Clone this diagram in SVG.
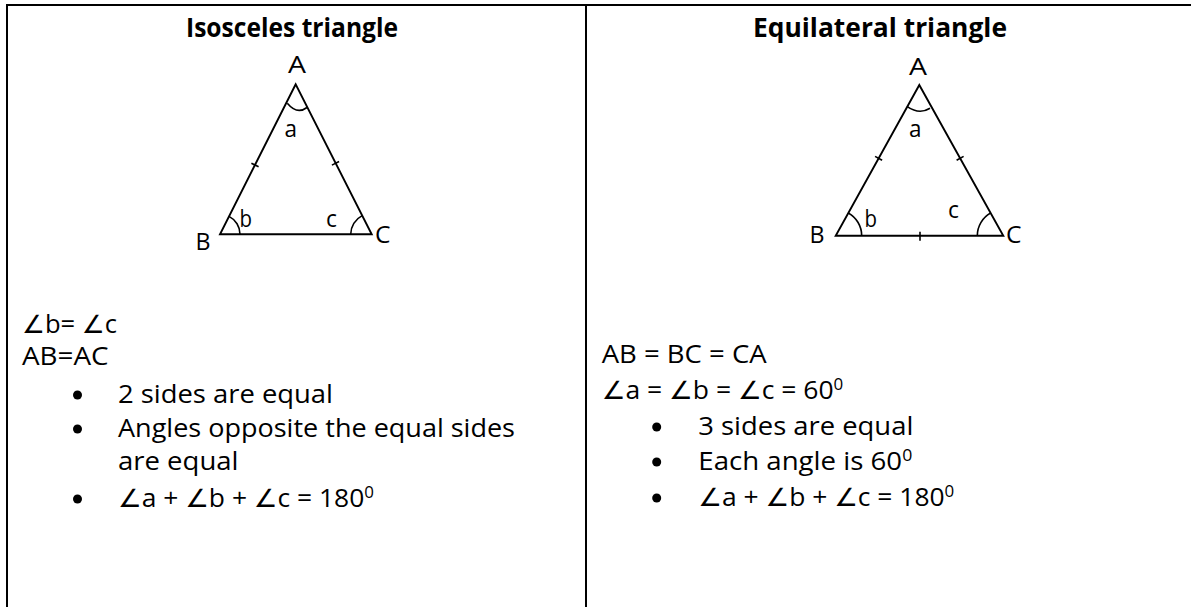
<svg xmlns="http://www.w3.org/2000/svg" width="1191" height="607" viewBox="0 0 1191 607">
<style>
.b{stroke:#000;stroke-width:2;fill:none}
.t{stroke:#000;stroke-width:1.9;fill:none;stroke-linejoin:miter}
.k{stroke:#000;stroke-width:1.6;fill:none}
text{font-family:"Open Sans","Liberation Sans","DejaVu Sans",sans-serif;fill:#000}
.h{font-size:27px;font-weight:bold}
.x{font-size:25px}
.l{font-size:23px}
.s{font-size:16px}
</style>
<rect width="1191" height="607" fill="#fff"/>
<g id="table">
<line class="b" x1="6" y1="5" x2="1191" y2="5"/>
<line class="b" x1="7" y1="4" x2="7" y2="607"/>
<line class="b" x1="586" y1="5" x2="586" y2="607"/>
</g>
<g id="isosceles">
<text class="h" x="292" y="37" text-anchor="middle" textLength="212" lengthAdjust="spacingAndGlyphs">Isosceles triangle</text>
<polygon class="t" points="295.7,84.3 220,234.3 371.7,234.3"/>
<path class="k" d="M287.3,103.3 Q297,115 307,107.5"/>
<path class="k" d="M240,234.3 A20 20 0 0 0 229,216.4"/>
<path class="k" d="M350.7,234.3 A21 21 0 0 1 362.2,215.6"/>
<line class="k" x1="251.4" y1="163.2" x2="258.6" y2="166.8"/>
<line class="k" x1="331.9" y1="165.1" x2="339.1" y2="161.5"/>
<text class="l" x="288" y="73" textLength="18" lengthAdjust="spacingAndGlyphs">A</text>
<text class="l" x="284.5" y="137" textLength="12.5" lengthAdjust="spacingAndGlyphs">a</text>
<text class="l" x="239.5" y="226.5" textLength="12.5" lengthAdjust="spacingAndGlyphs">b</text>
<text class="l" x="326" y="226.5" textLength="11" lengthAdjust="spacingAndGlyphs">c</text>
<text class="l" x="195.5" y="249.5" textLength="15" lengthAdjust="spacingAndGlyphs">B</text>
<text class="l" x="375" y="243" textLength="15.5" lengthAdjust="spacingAndGlyphs">C</text>
<text class="x" x="22" y="333" textLength="95" lengthAdjust="spacingAndGlyphs">∠b= ∠c</text>
<text class="x" x="22" y="365" textLength="86.6" lengthAdjust="spacingAndGlyphs">AB=AC</text>
<circle cx="77.5" cy="395" r="4.5"/>
<text class="x" x="118" y="403" textLength="215" lengthAdjust="spacingAndGlyphs">2 sides are equal</text>
<circle cx="77.5" cy="429" r="4.5"/>
<text class="x" x="118" y="437" textLength="397" lengthAdjust="spacingAndGlyphs">Angles opposite the equal sides</text>
<text class="x" x="118" y="470" textLength="120.5" lengthAdjust="spacingAndGlyphs">are equal</text>
<circle cx="77.5" cy="499" r="4.5"/>
<text class="x" x="118" y="507" textLength="256" lengthAdjust="spacingAndGlyphs">∠a + ∠b + ∠c = 180<tspan class="s" dy="-9">0</tspan></text>
</g>
<g id="equilateral">
<text class="h" x="880" y="37" text-anchor="middle" textLength="254" lengthAdjust="spacingAndGlyphs">Equilateral triangle</text>
<polygon class="t" points="919.3,85 835.7,235.7 1003.3,235.7"/>
<path class="k" d="M907.3,106.7 Q919.3,115 930,108.3"/>
<path class="k" d="M861.7,235.7 A26 26 0 0 0 848.3,213"/>
<path class="k" d="M977.3,235.7 A26 26 0 0 1 990.6,213"/>
<line class="k" x1="875.1" y1="156.4" x2="882.1" y2="160.2"/>
<line class="k" x1="956.6" y1="160.2" x2="963.6" y2="156.4"/>
<line class="k" x1="920" y1="231.7" x2="920" y2="240.7"/>
<text class="l" x="909" y="75" textLength="18" lengthAdjust="spacingAndGlyphs">A</text>
<text class="l" x="909" y="137" textLength="12.5" lengthAdjust="spacingAndGlyphs">a</text>
<text class="l" x="864.5" y="226.5" textLength="12.5" lengthAdjust="spacingAndGlyphs">b</text>
<text class="l" x="948" y="218" textLength="11" lengthAdjust="spacingAndGlyphs">c</text>
<text class="l" x="809.5" y="243" textLength="15" lengthAdjust="spacingAndGlyphs">B</text>
<text class="l" x="1006" y="243" textLength="15.5" lengthAdjust="spacingAndGlyphs">C</text>
<text class="x" x="601.7" y="363" textLength="165" lengthAdjust="spacingAndGlyphs">AB = BC = CA</text>
<text class="x" x="601.7" y="399" textLength="241.6" lengthAdjust="spacingAndGlyphs">∠a = ∠b = ∠c = 60<tspan class="s" dy="-9">0</tspan></text>
<circle cx="656.7" cy="427" r="4.5"/>
<text class="x" x="698.3" y="435" textLength="215" lengthAdjust="spacingAndGlyphs">3 sides are equal</text>
<circle cx="656.7" cy="462" r="4.5"/>
<text class="x" x="698.3" y="470" textLength="214" lengthAdjust="spacingAndGlyphs">Each angle is 60<tspan class="s" dy="-9">0</tspan></text>
<circle cx="656.7" cy="498" r="4.5"/>
<text class="x" x="698.3" y="506" textLength="256" lengthAdjust="spacingAndGlyphs">∠a + ∠b + ∠c = 180<tspan class="s" dy="-9">0</tspan></text>
</g>
</svg>
